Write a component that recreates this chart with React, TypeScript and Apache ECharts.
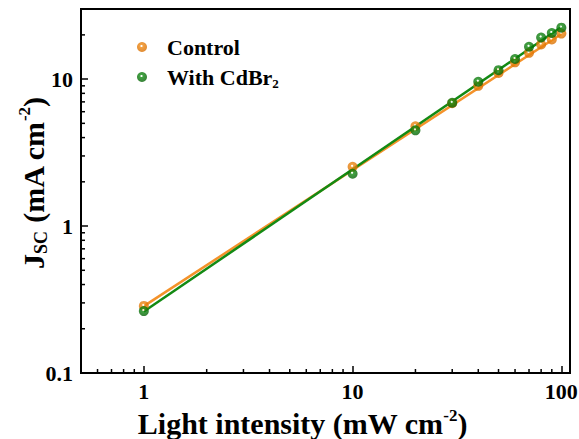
import React, { useEffect, useRef } from "react";
import * as echarts from "echarts";

// Light intensity (mW cm^-2)
const intensity = [1, 10, 20, 30, 40, 50, 60, 70, 80, 90, 100];
// Jsc (mA cm^-2)
const control = [0.286, 2.53, 4.78, 6.85, 9.0, 11.0, 13.0, 15.1, 17.2, 18.6, 20.4];
const withCdBr2 = [0.264, 2.27, 4.48, 6.9, 9.6, 11.5, 13.7, 16.6, 19.2, 20.6, 22.4];
// fitted lines (end points)
const fitControl = [[1, 0.285], [100, 20.3]];
const fitCdBr2 = [[1, 0.262], [100, 22.6]];

const xTickLabels = [1, 10, 100];
const yTickLabels = [0.1, 1, 10];
const xMinorTicks = [0.6, 0.7, 0.8, 0.9, 2, 3, 4, 5, 6, 7, 8, 9, 20, 30, 40, 50, 60, 70, 80, 90];
const yMinorTicks = [0.2, 0.3, 0.4, 0.5, 0.6, 0.7, 0.8, 0.9, 2, 3, 4, 5, 6, 7, 8, 9, 20];

const X_MIN = 0.5;
const X_MAX = 110;
const Y_MIN = 0.1;
const Y_MAX = 30;

const ORANGE = "#F4922A";
const GREEN = "#138A13";
const FONT = "Liberation Serif";

function ball(color: string, dark: string) {
  return new echarts.graphic.RadialGradient(0.45, 0.4, 0.6, [
    { offset: 0, color: "#ffffff" },
    { offset: 0.1, color: "#ffffff" },
    { offset: 0.25, color: color },
    { offset: 1, color: dark },
  ]);
}

function fmtLabel(list: number[]) {
  return (v: number) => {
    const hit = list.find((t) => Math.abs(Math.log10(v) - Math.log10(t)) < 1e-6);
    return hit === undefined ? "" : String(hit);
  };
}

export default function App() {
  const ref = useRef<HTMLDivElement>(null);
  useEffect(() => {
    if (!ref.current) return;
    const chart = echarts.init(ref.current, undefined, { renderer: "svg" });
    const tickStyle = { stroke: "#000", lineWidth: 1.5 };
    chart.setOption({
      animation: false,
      backgroundColor: "#fff",
      grid: {
        left: 81,
        right: 9,
        top: 9,
        bottom: 66,
        show: true,
        borderColor: "#000",
        borderWidth: 2,
        containLabel: false,
        outerBoundsMode: "none",
      },
      legend: {
        data: ["Control", "With CdBr2"],
        orient: "vertical",
        left: 132,
        top: 29,
        itemWidth: 10,
        itemHeight: 10,
        itemGap: 4,
        icon: "circle",
        formatter: (name: string) => (name === "With CdBr2" ? "With CdBr{sub|2}" : name),
        textStyle: {
          fontFamily: FONT,
          fontWeight: "bold",
          fontSize: 22,
          color: "#000",
          lineHeight: 26,
          padding: [0, 0, 0, 15],
          rich: {
            sub: {
              fontFamily: FONT,
              fontWeight: "bold",
              fontSize: 13,
              lineHeight: 14,
              verticalAlign: "bottom",
              color: "#000",
            },
          },
        },
      },
      xAxis: {
        type: "log",
        logBase: 10,
        min: X_MIN,
        max: X_MAX,
        name: "Light intensity (mW cm{sup|-2})",
        nameLocation: "middle",
        nameGap: 27,
        nameTextStyle: {
          fontFamily: FONT,
          fontWeight: "bold",
          fontSize: 30,
          color: "#000",
          lineHeight: 34,
          padding: [0, 46, 0, 0],
          rich: {
            sup: {
              fontFamily: FONT,
              fontWeight: "bold",
              fontSize: 17,
              lineHeight: 20,
              verticalAlign: "top",
              color: "#000",
            },
          },
        },
        axisLine: { onZero: false, lineStyle: { color: "#000", width: 2 } },
        axisTick: { inside: true, length: 7, lineStyle: { color: "#000", width: 1.5 } },
        axisLabel: {
          fontFamily: FONT,
          fontWeight: "bold",
          fontSize: 22,
          color: "#000",
          margin: 7,
          formatter: fmtLabel(xTickLabels),
        },
        splitLine: { show: false },
      },
      yAxis: {
        type: "log",
        logBase: 10,
        min: Y_MIN,
        max: Y_MAX,
        name: "J{sub|SC} (mA cm{sup|-2})",
        nameLocation: "middle",
        nameGap: 31,
        nameMoveOverlap: false,
        nameTextStyle: {
          fontFamily: FONT,
          fontWeight: "bold",
          fontSize: 30,
          color: "#000",
          lineHeight: 34,
          padding: [0, 0, 0, 16],
          rich: {
            sub: {
              fontFamily: FONT,
              fontWeight: "bold",
              fontSize: 18,
              lineHeight: 22,
              verticalAlign: "bottom",
              color: "#000",
            },
            sup: {
              fontFamily: FONT,
              fontWeight: "bold",
              fontSize: 17,
              lineHeight: 20,
              verticalAlign: "top",
              color: "#000",
            },
          },
        },
        axisLine: { onZero: false, lineStyle: { color: "#000", width: 2 } },
        axisTick: { inside: true, length: 7, lineStyle: { color: "#000", width: 1.5 } },
        axisLabel: {
          fontFamily: FONT,
          fontWeight: "bold",
          fontSize: 22,
          color: "#000",
          margin: 8,
          formatter: fmtLabel(yTickLabels),
        },
        splitLine: { show: false },
      },
      series: [
        {
          type: "line",
          name: "fit-control",
          data: fitControl,
          showSymbol: false,
          lineStyle: { color: ORANGE, width: 2.5 },
          itemStyle: { color: ORANGE },
          z: 2,
        },
        {
          type: "line",
          name: "fit-cdbr2",
          data: fitCdBr2,
          showSymbol: false,
          lineStyle: { color: GREEN, width: 2.5 },
          itemStyle: { color: GREEN },
          z: 2,
        },
        {
          type: "scatter",
          name: "Control",
          data: intensity.map((x, i) => [x, control[i]]),
          symbol: "circle",
          symbolSize: 10,
          itemStyle: { color: ball("#F08A14", "#D86E00") },
          z: 3,
        },
        {
          type: "scatter",
          name: "With CdBr2",
          data: intensity.map((x, i) => [x, withCdBr2[i]]),
          symbol: "circle",
          symbolSize: 10,
          itemStyle: { color: ball("#128C12", "#066206") },
          z: 4,
        },
        {
          type: "custom",
          name: "x-minor",
          silent: true,
          clip: false,
          z: 5,
          data: xMinorTicks.map((v) => [v, Y_MIN]),
          renderItem: (_p: any, api: any) => {
            const pt = api.coord([api.value(0), api.value(1)]);
            return {
              type: "line",
              shape: { x1: pt[0], y1: pt[1], x2: pt[0], y2: pt[1] - 4 },
              style: tickStyle,
            };
          },
        },
        {
          type: "custom",
          name: "y-minor",
          silent: true,
          clip: false,
          z: 5,
          data: yMinorTicks.map((v) => [X_MIN, v]),
          renderItem: (_p: any, api: any) => {
            const pt = api.coord([api.value(0), api.value(1)]);
            return {
              type: "line",
              shape: { x1: pt[0], y1: pt[1], x2: pt[0] + 4, y2: pt[1] },
              style: tickStyle,
            };
          },
        },
      ],
    });
    return () => chart.dispose();
  }, []);
  return <div ref={ref} style={{ width: 579, height: 439, position: "absolute", left: 0, top: 0 }} />;
}
